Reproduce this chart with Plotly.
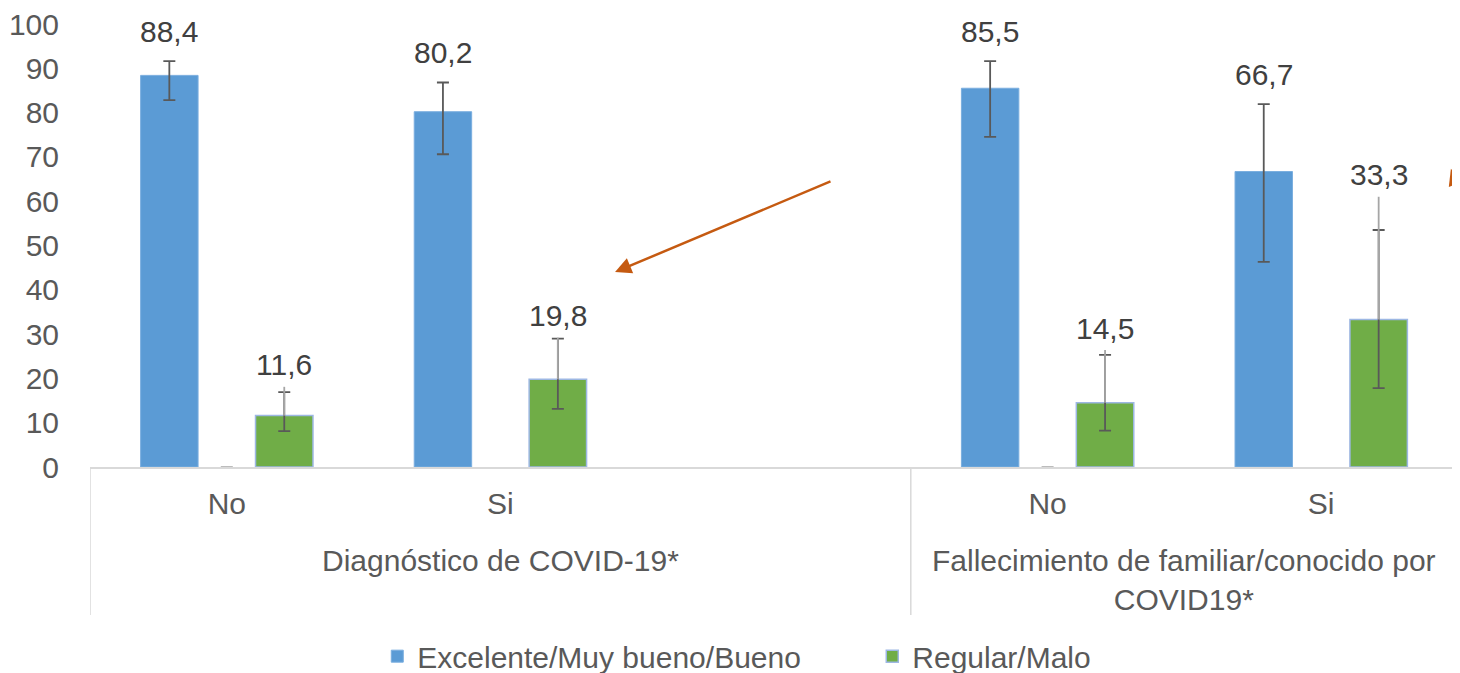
import plotly.graph_objects as go

# Datos
categorias = ["No", "Si", "", "No", "Si"]
grupos = ["Diagnóstico de COVID-19*", "Fallecimiento de familiar/conocido por<br>COVID19*"]
grupos_centro = [1, 3.5]

buena = [88.4, 80.2, None, 85.5, 66.7]
buena_sup = [91.6, 86.8, None, 91.6, 81.9]
buena_inf = [82.8, 70.6, None, 74.5, 46.3]

regular = [11.6, 19.8, None, 14.5, 33.3]
regular_sup = [16.9, 29.0, None, 25.3, 53.5]
regular_inf = [8.1, 13.1, None, 8.2, 17.8]
regular_max = [18.1, 29.2, None, 26.4, 61.0]

serie_vacia = [0, None, None, 0, None]

AZUL = "#5B9BD5"
VERDE = "#70AD47"
GRIS_TEXTO = "#595959"
GRIS_LINEA = "#D9D9D9"
NARANJA = "#C55A11"
FUENTE = "Liberation Sans, Arial, sans-serif"
TAM = 30

ANCHO = 0.21
OFFSETS = {"buena": -0.315, "vacia": -0.105, "regular": 0.105}
SIN_BORDE = dict(color="rgba(0,0,0,0)", line=dict(width=0))


def fmt(v):
    return f"{v:.1f}".replace(".", ",")


def resta(a, b):
    return [None if x is None else x - y for x, y in zip(a, b)]


x = list(range(len(categorias)))
fig = go.Figure()

# Excelente/Muy bueno/Bueno
fig.add_trace(go.Bar(
    x=x, y=buena, name="Excelente/Muy bueno/Bueno",
    width=ANCHO, offset=OFFSETS["buena"],
    marker=dict(color=AZUL, line=dict(color="#7AAEDF", width=1)),
    error_y=dict(type="data", symmetric=False,
                 array=resta(buena_sup, buena), arrayminus=resta(buena, buena_inf),
                 color=GRIS_TEXTO, thickness=1.8, width=6),
))

# serie sin valores (solo se ve la marca en 0)
fig.add_trace(go.Bar(
    x=x, y=serie_vacia, showlegend=False,
    width=ANCHO, offset=OFFSETS["vacia"], marker=SIN_BORDE,
    error_y=dict(type="data", array=[0] * 5, color="#A6A6A6", thickness=1.5, width=6),
))

# Regular/Malo
fig.add_trace(go.Bar(
    x=x, y=regular, name="Regular/Malo",
    width=ANCHO, offset=OFFSETS["regular"],
    marker=dict(color=VERDE, line=dict(color="#9DB7E3", width=1.5)),
))
# barra de error oscura
fig.add_trace(go.Bar(
    x=x, y=regular_inf, showlegend=False,
    width=ANCHO, offset=OFFSETS["regular"], marker=SIN_BORDE,
    error_y=dict(type="data", symmetric=False,
                 array=resta(regular_sup, regular_inf), arrayminus=[0] * 5,
                 color=GRIS_TEXTO, thickness=1.8, width=6),
))
# barra de error clara
fig.add_trace(go.Bar(
    x=x, y=regular, showlegend=False,
    width=ANCHO, offset=OFFSETS["regular"], marker=SIN_BORDE,
    error_y=dict(type="data", symmetric=False,
                 array=resta(regular_max, regular), arrayminus=[0] * 5,
                 color="#A6A6A6", thickness=1.8, width=0),
))

# Etiquetas de datos
for serie, tope, clave, desp in [(buena, buena_sup, "buena", 30), (regular, regular_max, "regular", 22)]:
    for i, (v, t) in enumerate(zip(serie, tope)):
        if v is None:
            continue
        fig.add_annotation(
            x=i + OFFSETS[clave] + ANCHO / 2, y=t, text=fmt(v),
            showarrow=False, yanchor="middle", yshift=desp,
            font=dict(size=TAM, color="#404040", family=FUENTE),
        )

# Etiquetas de grupo
for texto, xc in zip(grupos, grupos_centro):
    fig.add_annotation(
        x=xc, y=-0.17, xref="x", yref="paper", text=texto,
        showarrow=False, yanchor="top", align="center",
        font=dict(size=TAM, color=GRIS_TEXTO, family=FUENTE),
    )

# Divisores del eje de categorías
for xd in [-0.5, 2.5, 4.5]:
    fig.add_shape(type="line", xref="x", yref="paper", x0=xd, x1=xd, y0=0, y1=-0.334,
                  line=dict(color=GRIS_LINEA, width=1.5))

# Flechas
fig.add_annotation(x=1.419, y=44.0, ax=2.212, ay=64.6, xref="x", yref="y", axref="x", ayref="y",
                   text="", showarrow=True, arrowhead=2, arrowsize=1.3, arrowwidth=2.5, arrowcolor=NARANJA)
fig.add_annotation(x=4.474, y=67.3, ax=40, ay=25, xref="x", yref="y",
                   text="", showarrow=True, arrowhead=2, arrowsize=1.3, arrowwidth=2.5, arrowcolor=NARANJA)

fig.update_layout(
    width=1452, height=665,
    barmode="overlay",
    paper_bgcolor="white", plot_bgcolor="white",
    margin=dict(l=82, r=2, t=16, b=206, autoexpand=False),
    font=dict(family=FUENTE, size=TAM, color=GRIS_TEXTO),
    xaxis=dict(
        range=[-0.5, 4.5], tickvals=[0, 1, 3, 4], ticktext=[categorias[i] for i in [0, 1, 3, 4]],
        showgrid=False, zeroline=False, showline=True, linecolor=GRIS_LINEA, linewidth=1.5,
        ticks="outside", ticklen=9, tickcolor="rgba(0,0,0,0)", automargin=False,
        tickfont=dict(size=TAM, color=GRIS_TEXTO),
    ),
    yaxis=dict(
        range=[0, 100], tickvals=list(range(0, 101, 10)),
        showgrid=False, zeroline=False, showline=False,
        ticks="outside", ticklen=24, tickcolor="rgba(0,0,0,0)", automargin=False,
        ticklabeloverflow="allow",
        tickfont=dict(size=TAM, color=GRIS_TEXTO),
    ),
    legend=dict(
        orientation="h", x=0.21, y=-0.427, xanchor="left", yanchor="middle",
        font=dict(size=TAM, color=GRIS_TEXTO), bgcolor="rgba(0,0,0,0)",
        itemwidth=30, entrywidth=450,
    ),
    showlegend=True,
)

fig.write_html("out.html")
